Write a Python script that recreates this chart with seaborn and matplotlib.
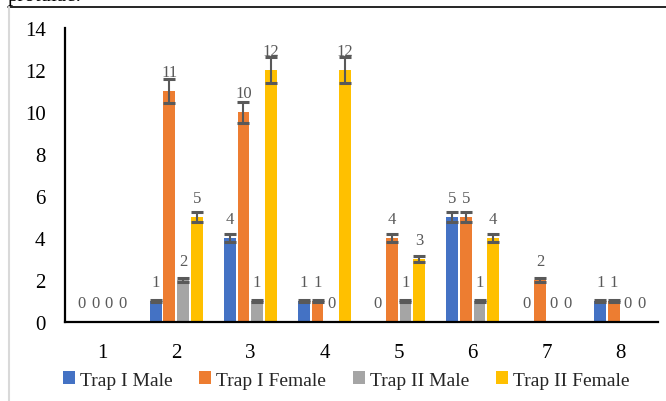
import matplotlib
matplotlib.use("Agg")
import matplotlib.pyplot as plt
import seaborn as sns
import pandas as pd
import numpy as np
from matplotlib.patches import Patch
from matplotlib.lines import Line2D

categories = ["1", "2", "3", "4", "5", "6", "7", "8"]
series = ["Trap I Male", "Trap I Female", "Trap II Male", "Trap II Female"]
trap1_male = [0, 1, 4, 1, 0, 5, 0, 1]
trap1_female = [0, 11, 10, 1, 4, 5, 2, 1]
trap2_male = [0, 2, 1, 0, 1, 1, 0, 0]
trap2_female = [0, 5, 12, 12, 3, 4, 0, 0]
colors = ["#4472C4", "#ED7D31", "#A5A5A5", "#FFC000"]
err_pct = 0.05

values = [trap1_male, trap1_female, trap2_male, trap2_female]
rows = []
for s, vals in zip(series, values):
    for c, v in zip(categories, vals):
        rows.append({"cat": c, "series": s, "value": v})
df = pd.DataFrame(rows)

sns.set_theme(style="white")
plt.rcParams["font.family"] = ["Liberation Serif", "DejaVu Serif"]

fig = plt.figure(figsize=(6.66, 4.02), dpi=100)
ax = fig.add_axes([65/666, 1 - 323/402, (658 - 65)/666, (323 - 29)/402])

sns.barplot(data=df, x="cat", y="value", hue="series", order=categories,
            hue_order=series, palette=colors, width=0.74, gap=0.14,
            saturation=1, errorbar=None, legend=False, ax=ax, linewidth=0)

for cont, vals in zip(ax.containers, values):
    for patch, v in zip(cont.patches, vals):
        xc = patch.get_x() + patch.get_width() / 2
        if v > 0:
            ax.errorbar(xc, v, yerr=v * err_pct, color="#595959", capsize=4.4,
                        capthick=2.2, elinewidth=1.5, zorder=5)
        ax.annotate(str(v), (xc, v), xytext=(0, 14), textcoords="offset points",
                    ha="center", va="center", fontsize=12, color="#595959")

ax.set_ylim(0, 14)
ax.set_xlim(-0.5, 7.5)
ax.set_yticks(range(0, 15, 2))
ax.set_xlabel("")
ax.set_ylabel("")
ax.tick_params(axis="y", length=0, pad=14, labelsize=15, colors="black")
ax.tick_params(axis="x", length=0, pad=15, labelsize=15, colors="black")
for side in ["top", "right"]:
    ax.spines[side].set_visible(False)
for side in ["left", "bottom"]:
    ax.spines[side].set_color("black")
    ax.spines[side].set_linewidth(1.6)

handles = [Patch(facecolor=c, edgecolor="none") for c in colors]
fig.legend(handles, series, loc="center", bbox_to_anchor=(346/666, 1 - 381/402),
           ncol=4, frameon=False, fontsize=14, handlelength=0.6,
           handleheight=0.6, handletextpad=0.25, columnspacing=1.4,
           borderpad=0, borderaxespad=0)

# page border decorations
fig.add_artist(Line2D([8/666, 1], [1 - 8/402, 1 - 8/402], color="black", lw=1.2))
fig.add_artist(Line2D([9/666, 9/666], [0, 1 - 8/402], color="#D9D9D9", lw=1.5))
fig.text(8/666, 1 - 1/402, "protulae.", fontsize=15, ha="left", va="baseline",
         color="black")

fig.savefig("out.png", dpi=100)
